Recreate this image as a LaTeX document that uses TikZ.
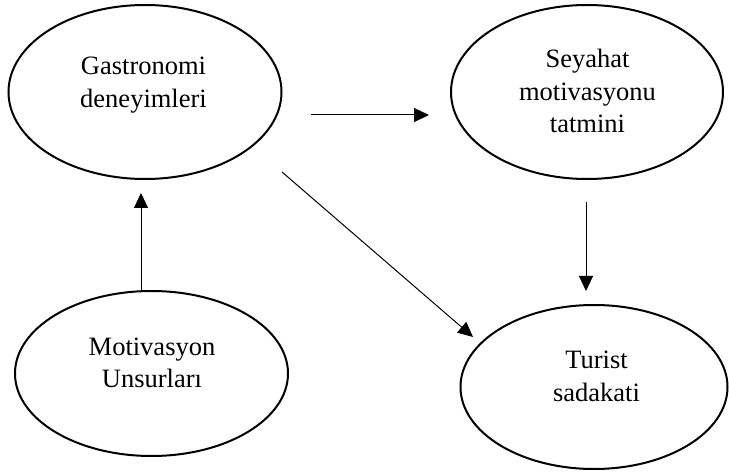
\documentclass[tikz,border=0pt]{standalone}
\usepackage{fontspec}
\setmainfont{Liberation Serif}
\usetikzlibrary{shapes.geometric,arrows.meta}
\begin{document}
\begin{tikzpicture}[x=1pt,y=-1pt,
  oval/.style={draw,ellipse,line width=2pt,inner sep=0pt},
  lbl/.style={anchor=base,align=center,inner sep=0pt,font=\fontsize{26.5}{32.5}\selectfont},
  conn/.style={line width=1pt,-{Triangle[length=15pt,width=14pt]}}]
\useasboundingbox (0,0) rectangle (729,473);
\node[oval,minimum width=273pt,minimum height=174pt] (g) at (145,92) {};
\node[oval,minimum width=272pt,minimum height=174pt] (s) at (587,92) {};
\node[oval,minimum width=273pt,minimum height=165pt] (m) at (151.5,373.5) {};
\node[oval,minimum width=267pt,minimum height=164pt] (t) at (594,387) {};
\node[lbl] (gt) at (143.5,107.5) {Gastronomi\\deneyimleri};
\node[lbl] (st) at (587.5,133) {Seyahat\\motivasyonu\\tatmini};
\node[lbl] (mt) at (152,388) {Motivasyon\\Unsurları};
\node[lbl] (tt) at (596.5,401) {Turist\\sadakati};
\coordinate (a1s) at (311,115);
\coordinate (a1e) at (429,115);
\coordinate (a2s) at (282,172);
\coordinate (a2e) at (473,337);
\coordinate (a3e) at (141,193);
\coordinate (a4s) at (586,202);
\coordinate (a4e) at (586,291);
\draw[conn] (a1s) -- (a1e);
\draw[conn] (a2s) -- (a2e);
\draw[conn] (a3e |- m.north) -- (a3e);
\draw[conn] (a4s) -- (a4e);
\end{tikzpicture}
\end{document}
